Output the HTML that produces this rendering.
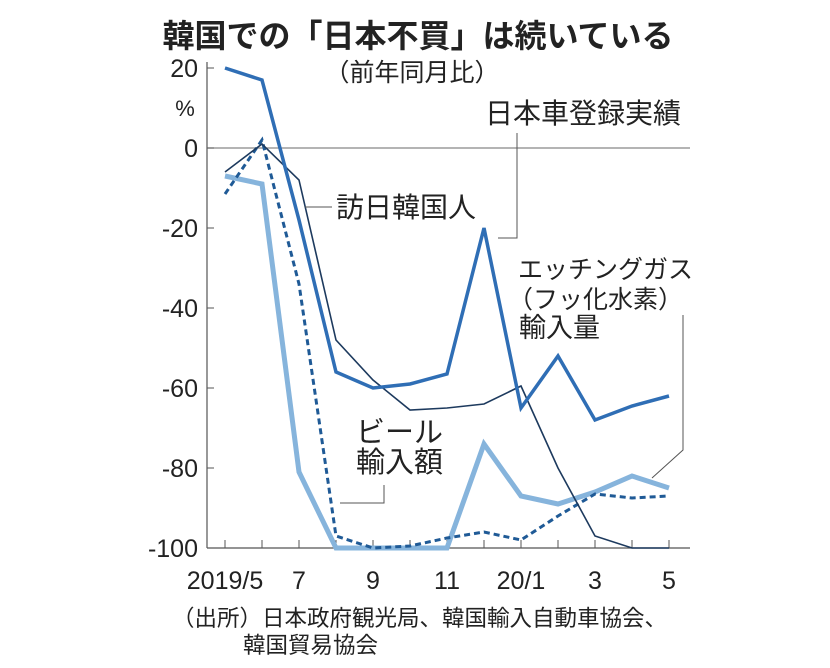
<!DOCTYPE html>
<html><head><meta charset="utf-8"><style>
body{margin:0;background:#fff;}
svg text{font-family:"Liberation Sans","Noto Sans CJK JP",sans-serif;fill:#222;}
</style></head><body>
<svg width="830" height="663">
<text x="418" y="47" text-anchor="middle" font-size="32" font-weight="bold">韓国での「日本不買」は続いている</text>
<text x="412" y="81" text-anchor="middle" font-size="25">（前年同月比）</text>
<text x="185" y="116" text-anchor="middle" font-size="22">%</text>
<g id="axes"></g>
<g id="series"></g>
<text x="336" y="217" font-size="28">訪日韓国人</text>
<line x1="305" y1="207" x2="332" y2="207" stroke="#555" stroke-width="1"/>
<text x="681" y="123" text-anchor="end" font-size="28">日本車登録実績</text>
<polyline points="517,133 517,238 498,238" fill="none" stroke="#555" stroke-width="1"/>
<text x="518" y="278" font-size="25">エッチングガス</text>
<text x="508" y="308" font-size="25">（フッ化水素）</text>
<text x="519" y="337" font-size="27">輸入量</text>
<polyline points="683,315 683,450 652,478" fill="none" stroke="#555" stroke-width="1"/>
<text x="356" y="442" font-size="29">ビール</text>
<text x="356" y="472" font-size="29">輸入額</text>
<polyline points="384,485 384,503 340,503" fill="none" stroke="#555" stroke-width="1"/>
<text x="172" y="626" font-size="22.5">（出所）日本政府観光局、韓国輸入自動車協会、</text>
<text x="243" y="653" font-size="22.5">韓国貿易協会</text>
</svg>
<script>
const months=["2019/5","6","7","8","9","10","11","12","20/1","2","3","4","5"];
const tickLabels=["2019/5","","7","","9","","11","","20/1","","3","","5"];
const yTicks=[20,0,-20,-40,-60,-80,-100];
const carValues=[20,17,-18,-56,-60,-59,-56.5,-20,-65,-52,-68,-64.5,-62];
const visitorValues=[-6,1,-8,-48,-58,-65.5,-65,-64,-59.5,-80,-97,-100,-100];
const beerValues=[-11.5,2,-34,-97,-100,-99.5,-97.5,-96,-98,-92,-86.5,-87.5,-87];
const gasValues=[-7,-9,-81,-100,-100,-100,-100,-74,-87,-89,-86,-82,-85];
const NS="http://www.w3.org/2000/svg";
const x=i=>225+i*37;
const y=v=>148-v*4;
function mk(t,a,p){const e=document.createElementNS(NS,t);for(const k in a)e.setAttribute(k,a[k]);p.appendChild(e);return e;}
const ax=document.getElementById('axes');
const l1=mk('line',{x1:207,y1:62,x2:207,y2:548,stroke:'#555','stroke-width':1.2},ax);


const l2=mk('line',{x1:207,y1:548,x2:690,y2:548,stroke:'#555','stroke-width':1.2},ax);


const z=mk('line',{x1:207,y1:y(0),x2:690,y2:y(0),stroke:'#888','stroke-width':1.2},ax);


yTicks.forEach(v=>{
 mk('line',{x1:207,y1:y(v),x2:214,y2:y(v),stroke:'#555'},ax);
 const t=mk('text',{x:198,y:y(v)+9,'text-anchor':'end','font-size':25},ax);t.textContent=v;
 
 
});
months.forEach((m,i)=>{
 mk('line',{x1:x(i),y1:548,x2:x(i),y2:540,stroke:'#555'},ax);
 if(tickLabels[i]){const t=mk('text',{x:x(i),y:589,'text-anchor':'middle','font-size':25},ax);t.textContent=tickLabels[i];
 
 }
});
const sg=document.getElementById('series');
function line(vals,attrs,name){
 const p=mk('polyline',Object.assign({points:vals.map((v,i)=>x(i)+','+y(v)).join(' '),fill:'none','stroke-linejoin':'miter'},attrs),sg);
 
 
}
line(gasValues,{stroke:'#86b4dc','stroke-width':5},'series-etching-gas');
line(beerValues,{stroke:'#1f5a96','stroke-width':3,'stroke-dasharray':'6,4'},'series-beer');
line(visitorValues,{stroke:'#1d3a5e','stroke-width':1.6},'series-visitors');
line(carValues,{stroke:'#2f6eb5','stroke-width':3.5},'series-japan-car');
</script>
</body></html>
